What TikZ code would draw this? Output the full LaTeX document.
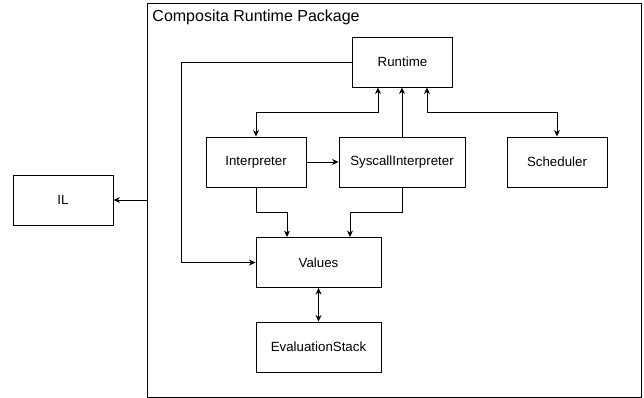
\documentclass[tikz,border=0pt]{standalone}
\usepackage{fontspec}
\setmainfont{Liberation Sans}
\usetikzlibrary{arrows.meta}

\begin{document}
\begin{tikzpicture}[
  x = 1pt, y = -1pt,
  line width = 0.9pt,
  >={Stealth[length=6.5pt, width=6pt, inset=2pt]},
  every node/.style = {font = \fontsize{13.3}{15}\selectfont},
  block/.style = {rectangle, draw, inner sep = 0pt,
    minimum width = 100pt, minimum height = 50pt},
  wideblock/.style = {block, minimum width = 125pt}
  ]
  \useasboundingbox (0,0) rectangle (644,398);

  % Package frame
  \node at (394, 200) [draw, minimum width = 494pt, minimum height = 394pt,
    inner sep = 0pt, name = Package] {};
  \node at (152, 17) [anchor = west, inner sep = 0pt, name = PackageTitle,
    font = \fontsize{16}{18}\selectfont]
  {Composita Runtime Package};

  % Nodes
  \node at (402.5, 62) [block, name = Runtime] {Runtime};

  \node at (256, 162) [block, name = Interpreter] {Interpreter};
  \node at (402, 162) [wideblock, minimum width = 126pt, name = Syscall]
  {SyscallInterpreter};
  \node at (557, 162) [block, name = Scheduler] {Scheduler};

  \node at (318.5, 262.5) [wideblock, name = Values] {Values};
  \node at (318.5, 347) [wideblock, name = EvalStack] {EvaluationStack};

  \node at (63, 200) [block, name = IL] {IL};

  \coordinate (rt_left) at (181, 62);

  % Connectors
  \draw [->] (Package.west) -- (IL.east);

  \draw [->] (Runtime.west) -- (rt_left) |- (Values.west);

  \draw [<->] ([xshift = -24.5]Runtime.south) -- ++(0, 25)
  -| (Interpreter.north);
  \draw [<->] ([xshift = 24.5]Runtime.south) -- ++(0, 25)
  -| (Scheduler.north);
  \draw [->] (Syscall.north) -- (Syscall.north |- Runtime.south);

  \draw [->] (Interpreter) -- (Syscall);

  \draw [->] (Interpreter.south) -- ++(0, 25)
  -| ([xshift = -31.5]Values.north);
  \draw [->] (Syscall.south) -- ++(0, 25)
  -| ([xshift = 31.5]Values.north);

  \draw [<->] (Values) -- (EvalStack);

\end{tikzpicture}
\end{document}
